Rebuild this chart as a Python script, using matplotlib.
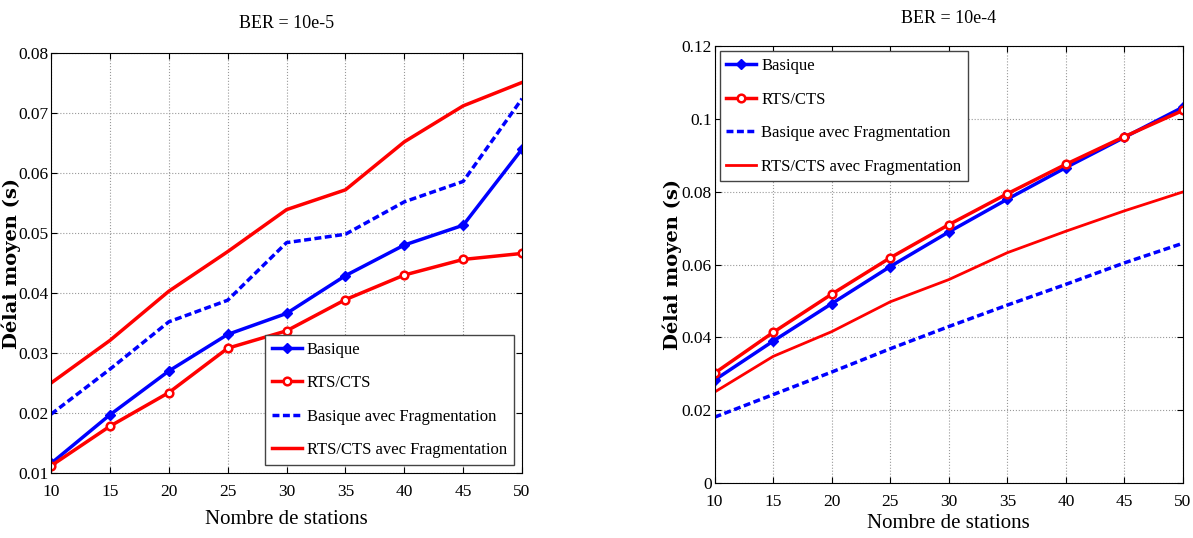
import matplotlib
matplotlib.use("Agg")
import matplotlib.pyplot as plt

stations = [10, 15, 20, 25, 30, 35, 40, 45, 50]
labels = ["Basique", "RTS/CTS", "Basique avec Fragmentation", "RTS/CTS avec Fragmentation"]

# BER = 10e-5
b5 = [0.0116, 0.0197, 0.0270, 0.0331, 0.0366, 0.0429, 0.0480, 0.0513, 0.0640]
r5 = [0.0112, 0.0178, 0.0234, 0.0308, 0.0337, 0.0389, 0.0430, 0.0456, 0.0466]
bf5 = [0.0198, 0.0273, 0.0352, 0.0388, 0.0484, 0.0498, 0.0552, 0.0586, 0.0724]
rf5 = [0.0250, 0.0321, 0.0403, 0.0469, 0.0539, 0.0572, 0.0652, 0.0712, 0.0751]

# BER = 10e-4
b4 = [0.0283, 0.0390, 0.0493, 0.0595, 0.0690, 0.0780, 0.0867, 0.0950, 0.1033]
r4 = [0.0302, 0.0414, 0.0519, 0.0619, 0.0710, 0.0795, 0.0876, 0.0952, 0.1024]
bf4 = [0.0181, 0.0243, 0.0305, 0.0369, 0.0430, 0.0489, 0.0546, 0.0605, 0.0659]
rf4 = [0.0250, 0.0348, 0.0416, 0.0498, 0.0559, 0.0633, 0.0692, 0.0748, 0.0800]

plt.rcParams["font.family"] = ["Liberation Serif", "DejaVu Serif"]

fig = plt.figure(figsize=(11.93, 5.38), dpi=100)
ax1 = fig.add_axes([0.0428, 0.1208, 0.3948, 0.7806])
ax2 = fig.add_axes([0.5990, 0.1022, 0.3926, 0.8116])


def draw(ax, b, r, bf, rf, rf_lw):
    ax.plot(stations, b, color="blue", lw=2.5, marker="D", ms=5.5, mfc="blue", mec="blue", label=labels[0])
    ax.plot(stations, r, color="red", lw=2.5, marker="o", ms=5.5, mfc="white", mec="red", mew=1.8, label=labels[1])
    ax.plot(stations, bf, color="blue", lw=2.5, ls=(0, (2, 1)), label=labels[2])
    ax.plot(stations, rf, color="red", lw=rf_lw, label=labels[3])
    ax.set_xlim(10, 50)
    ax.set_xticks(stations)
    ax.grid(True, ls=":", color="#999999", lw=0.8)
    ax.tick_params(direction="in", top=True, right=True, labelsize=12.5, length=4)
    ax.tick_params(axis="x", pad=8)
    ax.tick_params(axis="y", pad=2)
    ax.set_ylabel("Délai moyen (s)", fontsize=14, fontweight="bold", family="DejaVu Serif")


draw(ax1, b5, r5, bf5, rf5, 2.5)
ax1.set_ylim(0.01, 0.08)
ax1.set_yticks([0.01, 0.02, 0.03, 0.04, 0.05, 0.06, 0.07, 0.08])
ax1.set_yticklabels(["0.01", "0.02", "0.03", "0.04", "0.05", "0.06", "0.07", "0.08"])
ax1.yaxis.set_label_coords(-0.064, 0.5)
ax1.set_xlabel("Nombre de stations", fontsize=15, labelpad=7)
ax1.set_title("BER = 10e-5", fontsize=13, pad=18)
ax1.legend(loc="lower right", fontsize=12, fancybox=False, edgecolor="#444444",
           handlelength=1.8, handletextpad=0.3, borderaxespad=0.5, labelspacing=1.05,
           framealpha=1)

draw(ax2, b4, r4, bf4, rf4, 2.0)
ax2.set_ylim(0, 0.12)
ax2.set_yticks([0, 0.02, 0.04, 0.06, 0.08, 0.1, 0.12])
ax2.set_yticklabels(["0", "0.02", "0.04", "0.06", "0.08", "0.1", "0.12"])
ax2.yaxis.set_label_coords(-0.07, 0.5)
ax2.set_xlabel("Nombre de stations", fontsize=15, labelpad=3)
ax2.set_title("BER = 10e-4", fontsize=13, pad=17)
ax2.legend(loc="upper left", fontsize=12, fancybox=False, edgecolor="#444444",
           handlelength=1.8, handletextpad=0.3, borderaxespad=0.3, labelspacing=1.05,
           framealpha=1)

fig.savefig("out.png", dpi=100)
